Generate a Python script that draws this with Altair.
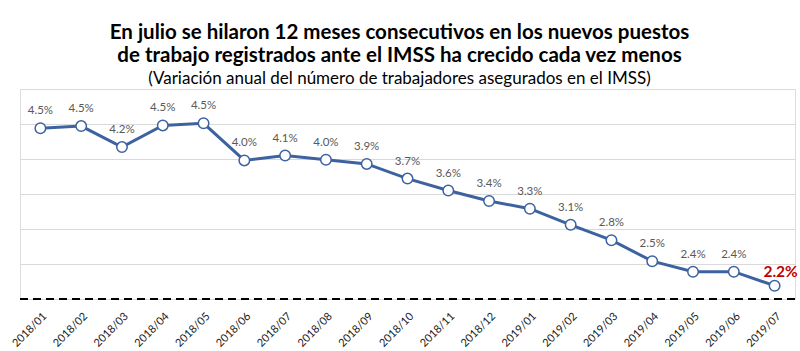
import altair as alt
import pandas as pd

months = ["2018/01", "2018/02", "2018/03", "2018/04", "2018/05", "2018/06",
          "2018/07", "2018/08", "2018/09", "2018/10", "2018/11", "2018/12",
          "2019/01", "2019/02", "2019/03", "2019/04", "2019/05", "2019/06", "2019/07"]
values = [4.44, 4.47, 4.17, 4.48, 4.51, 3.98, 4.05, 3.99, 3.93, 3.72, 3.55, 3.40,
          3.29, 3.06, 2.84, 2.54, 2.39, 2.39, 2.19]
labels = ["4.5%", "4.5%", "4.2%", "4.5%", "4.5%", "4.0%", "4.1%", "4.0%", "3.9%",
          "3.7%", "3.6%", "3.4%", "3.3%", "3.1%", "2.8%", "2.5%", "2.4%", "2.4%", "2.2%"]
grid_values = [2.0, 2.5, 3.0, 3.5, 4.0, 4.5, 5.0]
baseline_value = [2.0]

df = pd.DataFrame({"mes": months, "valor": values, "etiqueta": labels})
df["ultimo"] = [False] * (len(months) - 1) + [True]

FONT = "Lato"
BLUE = "#3D62A0"

x = alt.X("mes:O", sort=months,
          scale=alt.Scale(paddingOuter=0.5, paddingInner=0),
          axis=alt.Axis(title=None, labelAngle=-45, domain=False, ticks=False,
                        labelFont=FONT, labelFontSize=11, labelColor="#1A1A1A",
                        labelPadding=11, grid=False))
yscale = alt.Scale(domain=[2.0, 5.0], nice=False, zero=False)
y = alt.Y("valor:Q", scale=yscale,
          axis=alt.Axis(title=None, labels=False, domain=False, ticks=False,
                        values=grid_values,
                        grid=True, gridColor="#D9D9D9", gridWidth=1))

base = alt.Chart(df)

line = base.mark_line(color=BLUE, strokeWidth=3).encode(x=x, y=y)
points = base.mark_point(filled=True, fill="white", stroke=BLUE, strokeWidth=1.5,
                         size=110, opacity=1).encode(x=x, y=y)

text = base.transform_filter("!datum.ultimo").mark_text(
    dy=-17, font=FONT, fontSize=11.5, color="#595959").encode(
    x=x, y=y, text="etiqueta:N")

text_last = base.transform_filter("datum.ultimo").mark_text(
    dy=-14, dx=6, font=FONT, fontSize=15.5, fontWeight="bold", color="#C00000").encode(
    x=x, y=y, text="etiqueta:N")

rule = alt.Chart(pd.DataFrame({"valor": baseline_value})).mark_rule(
    color="#000000", strokeWidth=2, strokeDash=[8, 5]).encode(y=y)

chart = alt.layer(line, rule, points, text, text_last).properties(
    width=775, height=210,
    padding={"left": 20, "top": 89, "right": 5, "bottom": 52},
    autosize=alt.AutoSizeParams(type="none"),
    title=alt.TitleParams(
        text=["En julio se hilaron 12 meses consecutivos en los nuevos puestos",
              "de trabajo registrados ante el IMSS ha crecido cada vez menos"],
        subtitle="(Variación anual del número de trabajadores asegurados en el IMSS)",
        font=FONT, fontSize=20.5, fontWeight="bold", color="#000000",
        lineHeight=23, subtitleFont=FONT, subtitleFontSize=17, subtitleColor="#000000",
        subtitlePadding=5, anchor="middle", offset=2, dx=-8),
).configure_view(stroke=None).configure(background="white")

chart.save("out.html", embed_options={"renderer": "svg", "actions": False})
